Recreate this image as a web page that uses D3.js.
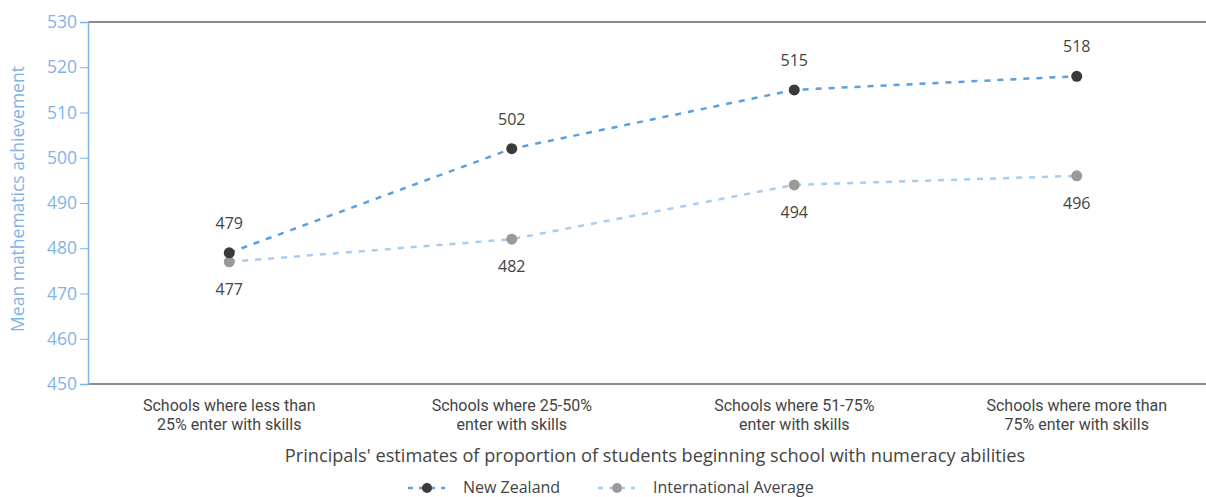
<!DOCTYPE html>
<html>
<head>
<meta charset="utf-8">
<script src="https://cdn.jsdelivr.net/npm/d3@7"></script>
<style>
  body { margin: 0; background: #fff; }
  text { font-family: "Open Sans", "Noto Sans", sans-serif; }
</style>
</head>
<body>
<div id="svg"></div>
<script>
var categories = [
  ["Schools where less than", "25% enter with skills"],
  ["Schools where 25-50%", "enter with skills"],
  ["Schools where 51-75%", "enter with skills"],
  ["Schools where more than", "75% enter with skills"]
];
var nzValues = [479, 502, 515, 518];
var intlValues = [477, 482, 494, 496];
var yTicks = [450, 460, 470, 480, 490, 500, 510, 520, 530];
var seriesNames = ["New Zealand", "International Average"];

var width = 1206, height = 497;
var margin = {top: 22, right: 0, bottom: 113, left: 88};

var svg = d3.select("#svg")
  .append("svg")
    .attr("width", width)
    .attr("height", height);

var x = d3.scaleBand()
  .domain(d3.range(categories.length))
  .range([margin.left, 1218]);

var y = d3.scaleLinear()
  .domain([450, 530])
  .range([height - margin.bottom, margin.top]);

// top and bottom frame lines
svg.append("line")
  .attr("x1", margin.left).attr("x2", width)
  .attr("y1", y(530)).attr("y2", y(530))
  .style("stroke", "#666").style("stroke-width", 1.5);
svg.append("line")
  .attr("x1", margin.left).attr("x2", width)
  .attr("y1", y(450)).attr("y2", y(450))
  .style("stroke", "#666").style("stroke-width", 1.5);

// Y axis
var yAxis = svg.append("g")
  .attr("transform", "translate(" + margin.left + ",0)")
  .call(d3.axisLeft(y).tickValues(yTicks).tickSize(8).tickPadding(3));
yAxis.select(".domain").style("stroke", "#7fb3e6").style("stroke-width", 1.5);
yAxis.selectAll(".tick line").style("stroke", "#7fb3e6");
yAxis.selectAll(".tick text")
  .style("fill", "#7fb3e6")
  .style("font-size", "17.5px")
  .style("font-family", "'Open Sans', sans-serif");

svg.append("text")
  .attr("transform", "translate(24,199) rotate(-90)")
  .attr("text-anchor", "middle")
  .style("fill", "#7fb3e6")
  .style("font-size", "17.5px")
  .text("Mean mathematics achievement");

// category labels, two lines each
var catX = function(d, i) { return x(i) + x.bandwidth() / 2; };
[0, 1].forEach(function(row) {
  svg.append("g").selectAll("text")
    .data(categories)
    .enter()
    .append("text")
      .attr("x", catX)
      .attr("y", 411 + row * 19)
      .attr("text-anchor", "middle")
      .style("fill", "#444")
      .style("font-family", "Roboto, sans-serif")
      .style("font-size", "16px")
      .text(function(d) { return d[row]; });
});

svg.append("text")
  .attr("x", 655)
  .attr("y", 462)
  .attr("text-anchor", "middle")
  .style("fill", "#444")
  .style("font-size", "18.2px")
  .text("Principals' estimates of proportion of students beginning school with numeracy abilities");

var line = d3.line()
  .x(function(d, i) { return x(i) + x.bandwidth() / 2; })
  .y(function(d) { return y(d); });

var series = [
  {name: seriesNames[0], values: nzValues, line: "#5b9fe3", dot: "#3a3a3a", off: -24},
  {name: seriesNames[1], values: intlValues, line: "#a9cdf0", dot: "#9a9a9a", off: 33}
];

series.slice().reverse().forEach(function(s) {
  svg.append("path")
    .datum(s.values)
    .attr("d", line)
    .style("fill", "none")
    .style("stroke", s.line)
    .style("stroke-width", 2.5)
    .style("stroke-dasharray", "6,7");
});

series.slice().reverse().forEach(function(s) {
  svg.append("g").selectAll("circle")
    .data(s.values)
    .enter()
    .append("circle")
      .attr("cx", catX)
      .attr("cy", function(d) { return y(d); })
      .attr("r", 5.5)
      .style("fill", s.dot);
  svg.append("g").selectAll("text")
    .data(s.values)
    .enter()
    .append("text")
      .attr("x", catX)
      .attr("y", function(d) { return y(d) + s.off; })
      .attr("text-anchor", "middle")
      .style("fill", "#444")
      .style("font-size", "16px")
      .text(function(d) { return d; });
});

// legend
var legendX = [408, 598];
series.forEach(function(s, i) {
  var g = svg.append("g").attr("transform", "translate(" + legendX[i] + ",488)");
  g.append("line")
    .attr("x1", 0).attr("x2", 37)
    .style("stroke", s.line)
    .style("stroke-width", 2.5)
    .style("stroke-dasharray", "5,6");
  g.append("circle").attr("cx", 19).attr("r", 5).style("fill", s.dot);
  g.append("text")
    .attr("x", 55)
    .attr("y", 5)
    .style("fill", "#444")
    .style("font-size", "16px")
    .text(s.name);
});
</script>
</body>
</html>
